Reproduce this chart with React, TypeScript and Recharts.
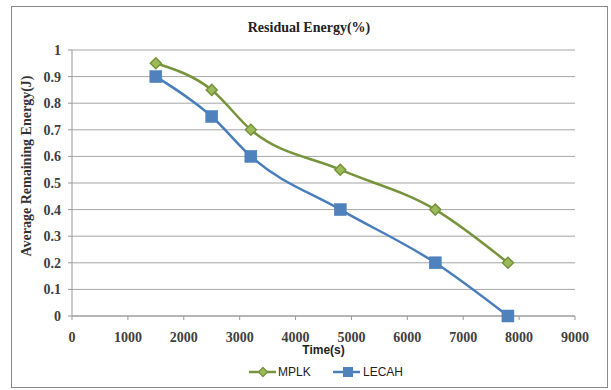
import React from 'react';
import { LineChart, Line, XAxis, YAxis, CartesianGrid, Legend } from 'recharts';

const times = [1500, 2500, 3200, 4800, 6500, 7800];
const mplk = [0.95, 0.85, 0.7, 0.55, 0.4, 0.2];
const lecah = [0.9, 0.75, 0.6, 0.4, 0.2, 0];
const xTicks = [0, 1000, 2000, 3000, 4000, 5000, 6000, 7000, 8000, 9000];
const yTicks = [0, 0.1, 0.2, 0.3, 0.4, 0.5, 0.6, 0.7, 0.8, 0.9, 1];

const data = times.map((t, i) => ({ t, MPLK: mplk[i], LECAH: lecah[i] }));

const GREEN = '#77933C';
const GREEN_FILL = '#9BBB59';
const BLUE = '#4A7EBB';
const BLUE_FILL = '#4F81BD';

const serif = "'Liberation Serif', 'Times New Roman', serif";
const sans = "'Liberation Sans', Arial, sans-serif";

const Diamond = (p: any) => {
  const { cx, cy } = p;
  if (cx == null || cy == null) return null;
  const r = 5.5;
  return (
    <path
      key={`d-${cx}`}
      d={`M${cx},${cy - r}L${cx + r},${cy}L${cx},${cy + r}L${cx - r},${cy}Z`}
      fill={GREEN_FILL}
      stroke={GREEN}
      strokeWidth={1.5}
    />
  );
};

const Square = (p: any) => {
  const { cx, cy } = p;
  if (cx == null || cy == null) return null;
  const r = 6;
  return <rect key={`s-${cx}`} x={cx - r} y={cy - r} width={2 * r} height={2 * r} fill={BLUE_FILL} stroke={BLUE} strokeWidth={0.5} />;
};

const LegendContent = () => (
  <svg width={170} height={20} style={{ overflow: 'visible', display: 'block' }}>
    <line x1={0} y1={10} x2={27} y2={10} stroke={GREEN} strokeWidth={2.5} />
    <path d="M14,5.5L18.5,10L14,14.5L9.5,10Z" fill={GREEN_FILL} stroke={GREEN} strokeWidth={1.3} />
    <text x={29} y={14.3} fontFamily={sans} fontSize={12} fill="#222">MPLK</text>
    <line x1={84} y1={10} x2={111} y2={10} stroke={BLUE} strokeWidth={2.5} />
    <rect x={94} y={5} width={10} height={10} fill={BLUE_FILL} />
    <text x={114} y={14.3} fontFamily={sans} fontSize={12} fill="#222">LECAH</text>
  </svg>
);

const YLabel = () => (
  <text
    x={26}
    y={166}
    transform="rotate(-90, 26, 166)"
    textAnchor="middle"
    dominantBaseline="central"
    fontFamily={serif}
    fontSize={14}
    fontWeight="bold"
    fill="#333"
  >
    Average Remaining Energy(J)
  </text>
);

export default function App() {
  return (
    <div style={{ position: 'absolute', left: 0, top: 0, width: 611, height: 390, background: '#fff' }}>
      <div style={{ position: 'absolute', left: 11, top: 6, width: 597, height: 382, border: '1px solid #8a8a8a', boxSizing: 'border-box' }} />
      <div style={{ position: 'absolute', left: 0, top: 0 }}>
        <LineChart width={611} height={390} data={data} margin={{ top: 50, right: 36, bottom: 44, left: 0 }}>
          <CartesianGrid horizontal vertical={false} stroke="#a6a6a6" strokeWidth={1} />
          <XAxis
            dataKey="t"
            type="number"
            domain={[0, 9000]}
            ticks={xTicks}
            height={30}
            stroke="#999"
            tickLine={{ stroke: '#999' }}
            tickSize={4}
            tickMargin={12}
            tick={{ fontFamily: serif, fontSize: 14, fontWeight: 'bold', fill: '#404040' }}
            interval={0}
            label={{ value: 'Time(s)', position: 'insideBottom', offset: -7.5, style: { fontFamily: sans, fontSize: 12, fontWeight: 'bold', fill: '#222' } }}
          />
          <YAxis
            type="number"
            domain={[0, 1]}
            ticks={yTicks}
            width={72}
            stroke="#999"
            tickLine={{ stroke: '#999' }}
            tickSize={4}
            tickMargin={7}
            tick={{ fontFamily: serif, fontSize: 14, fontWeight: 'bold', fill: '#404040' }}
            interval={0}
            label={{ content: YLabel }}
          />
          <Legend
            verticalAlign="middle"
            align="center"
            content={LegendContent}
            wrapperStyle={{ position: 'absolute', top: 362, left: 249, width: 170, height: 20 }}
          />
          <Line type="monotone" dataKey="MPLK" stroke={GREEN} strokeWidth={2.5} dot={Diamond} isAnimationActive={false} />
          <Line type="monotone" dataKey="LECAH" stroke={BLUE} strokeWidth={2.5} dot={Square} isAnimationActive={false} />
        </LineChart>
      </div>
      <div style={{ position: 'absolute', left: 0, width: 618, top: 19, lineHeight: '18px', textAlign: 'center', fontFamily: serif, fontSize: 14, fontWeight: 'bold', color: '#222' }}>
        Residual Energy(%)
      </div>
    </div>
  );
}
